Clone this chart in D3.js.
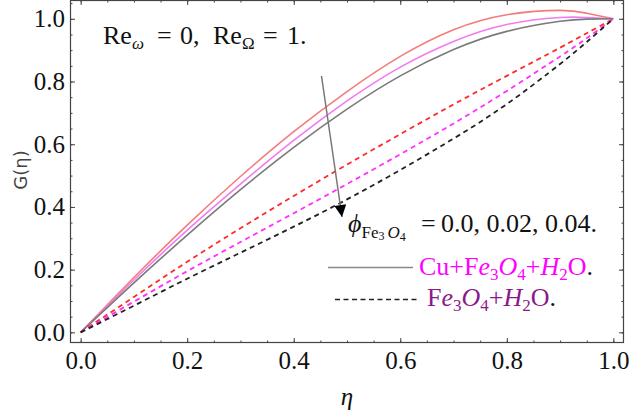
<!DOCTYPE html>
<html>
<head>
<meta charset="utf-8">
<script src="https://cdn.jsdelivr.net/npm/d3@7"></script>
<style>
  body { margin: 0; background: #fff; }
  svg { display: block; }
</style>
</head>
<body>
<script>
let etaVals = [0, 0.1, 0.2, 0.3, 0.4, 0.5, 0.6, 0.7, 0.8, 0.9, 0.95, 1.0];

// solid curves: Cu+Fe3O4+H2O, phi = 0.0, 0.02, 0.04
let solidRed     = [0, 0.175, 0.342, 0.497, 0.64, 0.768, 0.88, 0.965, 1.013, 1.027, 1.018, 1.0];
let solidMagenta = [0, 0.167, 0.326, 0.473, 0.612, 0.738, 0.846, 0.928, 0.982, 1.004, 1.004, 1.0];
let solidGray    = [0, 0.158, 0.31, 0.455, 0.59, 0.712, 0.818, 0.902, 0.96, 0.992, 0.999, 1.0];

// dashed curves: Fe3O4+H2O
let dashRed     = [0, 0.113, 0.225, 0.332, 0.435, 0.535, 0.632, 0.727, 0.818, 0.908, 0.954, 1.0];
let dashMagenta = [0, 0.098, 0.195, 0.288, 0.38, 0.473, 0.568, 0.666, 0.77, 0.88, 0.938, 1.0];
let dashBlack   = [0, 0.085, 0.171, 0.254, 0.337, 0.424, 0.518, 0.618, 0.728, 0.856, 0.926, 1.0];

let xTicks = [0, 0.2, 0.4, 0.6, 0.8, 1.0];
let yTicks = [0, 0.2, 0.4, 0.6, 0.8, 1.0];
let xMinor = d3.range(0, 1.001, 0.05);
let yMinor = d3.range(0, 1.051, 0.05);

let serif = '"Liberation Serif", "Times New Roman", Times, serif';

let svgWidth = 629;
let svgHeight = 410;

let svg = d3.select('body')
  .append('svg')
  .attr('width', svgWidth)
  .attr('height', svgHeight);

// scales (plot frame runs from 70 to 624 across, 0 to 343 down)
let xScale = d3.scaleLinear().domain([-0.02, 1.02]).range([70, 624]);
let yScale = d3.scaleLinear().domain([-0.034, 1.06]).range([343, 0]);

let fmt = d3.format('.1f');

// bottom axis with inward ticks
svg.append('g').attr('transform', 'translate(0,343)')
  .call(d3.axisBottom(xScale).tickValues(xMinor).tickSize(-2.5).tickFormat(''));
svg.append('g').attr('transform', 'translate(0,343)')
  .call(d3.axisBottom(xScale).tickValues(xTicks).tickSize(-5).tickPadding(8).tickFormat(fmt));

// top mirror ticks
svg.append('g').call(d3.axisTop(xScale).tickValues(xMinor).tickSize(-2.5).tickFormat(''));
svg.append('g').call(d3.axisTop(xScale).tickValues(xTicks).tickSize(-5).tickFormat(''));

// left axis
svg.append('g').attr('transform', 'translate(70,0)')
  .call(d3.axisLeft(yScale).tickValues(yMinor).tickSize(-2.5).tickFormat(''));
svg.append('g').attr('transform', 'translate(70,0)')
  .call(d3.axisLeft(yScale).tickValues(yTicks).tickSize(-5).tickPadding(5).tickFormat(fmt));

// right mirror ticks
svg.append('g').attr('transform', 'translate(624,0)')
  .call(d3.axisRight(yScale).tickValues(yMinor).tickSize(-2.5).tickFormat(''));
svg.append('g').attr('transform', 'translate(624,0)')
  .call(d3.axisRight(yScale).tickValues(yTicks).tickSize(-5).tickFormat(''));

svg.selectAll('.domain').remove();
svg.selectAll('.tick line').attr('stroke', '#444');
svg.selectAll('.tick text')
  .style('font-family', serif)
  .style('font-size', '25px')
  .attr('fill', '#111');

// frame
svg.append('rect')
  .attr('x', 70.5).attr('y', 0.5)
  .attr('width', 553).attr('height', 342)
  .attr('fill', 'none')
  .attr('stroke', '#444')
  .attr('stroke-width', 1.2);

let createLine = d3.line()
  .x((d, i) => xScale(etaVals[i]))
  .y(d => yScale(d))
  .curve(d3.curveNatural);

let curves = [
  { vals: solidRed, color: '#f47c7c', dash: null, w: 1.6 },
  { vals: solidMagenta, color: '#f27af2', dash: null, w: 1.6 },
  { vals: solidGray, color: '#7a7a7a', dash: null, w: 1.6 },
  { vals: dashRed, color: '#ff2a2a', dash: '5,4', w: 1.8 },
  { vals: dashMagenta, color: '#ff30ff', dash: '5,4', w: 1.8 },
  { vals: dashBlack, color: '#222', dash: '5,4', w: 1.8 }
];

svg.selectAll('path.curve')
  .data(curves)
  .enter()
  .append('path')
  .classed('curve', true)
  .attr('d', d => createLine(d.vals))
  .attr('fill', 'none')
  .attr('stroke', d => d.color)
  .attr('stroke-width', d => d.w)
  .attr('stroke-dasharray', d => d.dash);

// arrow showing increasing phi
svg.append('defs').append('marker')
  .attr('id', 'head')
  .attr('viewBox', '0 0 10 10')
  .attr('refX', 10).attr('refY', 5)
  .attr('markerWidth', 16).attr('markerHeight', 12)
  .attr('markerUnits', 'userSpaceOnUse')
  .attr('orient', 'auto')
  .append('path')
  .attr('d', 'M0,0 L10,5 L0,10 Z')
  .attr('fill', '#000');

svg.append('line')
  .attr('x1', 321.5).attr('y1', 76)
  .attr('x2', 342).attr('y2', 217)
  .attr('stroke', '#777')
  .attr('stroke-width', 1.5)
  .attr('marker-end', 'url(#head)');

// annotation Re_w = 0, Re_Omega = 1.
let ann = svg.append('text').attr('y', 44).style('font-size', '26px').attr('fill', '#111');
ann.append('tspan').attr('x', 103).text('Re');
ann.append('tspan').attr('dy', 5).style('font-size', '17px').style('font-style', 'italic').text('ω');
ann.append('tspan').attr('x', 157).attr('dy', -5).text('=');
ann.append('tspan').attr('x', 180).text('0,');
ann.append('tspan').attr('x', 213).text('Re');
ann.append('tspan').attr('dy', 5).style('font-size', '17px').text('Ω');
ann.append('tspan').attr('x', 263).attr('dy', -5).text('=');
ann.append('tspan').attr('x', 287).text('1.');

// phi legend
let phi = svg.append('text').attr('y', 232).style('font-size', '26px').attr('fill', '#111');
phi.append('tspan').attr('x', 348).style('font-style', 'italic').text('ϕ');
phi.append('tspan').attr('dy', 6).style('font-size', '17px').text('Fe');
phi.append('tspan').attr('dy', 2).style('font-size', '12px').text('3\u00a0');
phi.append('tspan').attr('dy', -2).style('font-size', '17px').style('font-style', 'italic').text('O');
phi.append('tspan').attr('dy', 3).style('font-size', '12px').text('4');
phi.append('tspan').attr('x', 421).attr('dy', -9).text('=');
phi.append('tspan').attr('x', 441).text('0.0, 0.02, 0.04.');

// legend lines
svg.append('line')
  .attr('x1', 328).attr('x2', 413).attr('y1', 267.5).attr('y2', 267.5)
  .attr('stroke', '#888').attr('stroke-width', 1.5);
svg.append('line')
  .attr('x1', 335).attr('x2', 419).attr('y1', 299.5).attr('y2', 299.5)
  .attr('stroke', '#222').attr('stroke-width', 1.5)
  .attr('stroke-dasharray', '5,3.5');

function formula(t, color) {
  t.append('tspan').attr('fill', color).text('F');
  t.append('tspan').attr('fill', color).style('font-style', 'italic').text('e');
  t.append('tspan').attr('fill', color).attr('dy', 5).style('font-size', '17px').text('3');
  t.append('tspan').attr('fill', color).attr('dy', -5).style('font-style', 'italic').text('O');
  t.append('tspan').attr('fill', color).attr('dy', 5).style('font-size', '17px').text('4');
  t.append('tspan').attr('fill', color).attr('dy', -5).text('+');
  t.append('tspan').attr('fill', color).style('font-style', 'italic').text('H');
  t.append('tspan').attr('fill', color).attr('dy', 5).style('font-size', '17px').text('2');
  t.append('tspan').attr('fill', color).attr('dy', -5).text('O');
  t.append('tspan').attr('fill', '#111').text('.');
}

let leg1 = svg.append('text').attr('x', 419).attr('y', 275).style('font-size', '26px');
leg1.append('tspan').attr('fill', '#ff00ff').text('Cu+');
formula(leg1, '#ff00ff');

let leg2 = svg.append('text').attr('x', 427).attr('y', 306).style('font-size', '26px');
formula(leg2, '#8a1a8a');

// x axis title
svg.append('text')
  .attr('x', 347).attr('y', 405)
  .attr('text-anchor', 'middle')
  .style('font-size', '25px')
  .style('font-style', 'italic')
  .attr('fill', '#111')
  .text('η');

svg.selectAll('text').filter(function() { return !this.closest('.tick'); })
  .style('font-family', serif);

// y axis title (sans, grey)
svg.append('text')
  .attr('transform', 'translate(27,170) rotate(-90)')
  .attr('text-anchor', 'middle')
  .style('font-family', '"DejaVu Sans", sans-serif')
  .style('font-size', '18px')
  .attr('fill', '#444')
  .text('G(η)');
</script>
</body>
</html>
